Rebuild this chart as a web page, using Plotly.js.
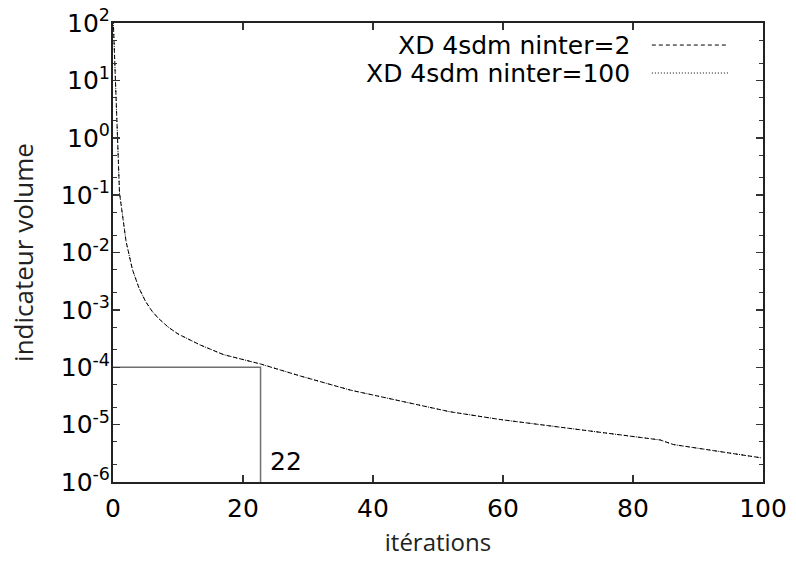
<!DOCTYPE html>
<html>
<head>
<meta charset="utf-8">
<script src="https://cdn.plot.ly/plotly-3.0.1.min.js"></script>
<style>html,body{margin:0;padding:0;background:#fff;}#chart{width:796px;height:568px;}</style>
</head>
<body>
<div id="chart"></div>
<script>
// Data
const seriesNames = ["XD 4sdm ninter=2", "XD 4sdm ninter=100"];
const iterations = [0, 1, 2, 3, 4, 5, 6, 7, 8.5, 10, 13.4, 17, 22.7, 28.8, 36.5, 44.2, 51.8, 59.5, 67.2, 70.3, 77, 84.2, 86.2, 92, 99.8];
const volumeNinter2 = [150, 0.11, 0.0158, 5.0e-3, 2.4e-3, 1.41e-3, 9.5e-4, 7.1e-4, 5.0e-4, 3.8e-4, 2.45e-4, 1.66e-4, 1.14e-4, 7.05e-5, 4.0e-5, 2.58e-5, 1.68e-5, 1.23e-5, 9.5e-6, 8.7e-6, 6.9e-6, 5.4e-6, 4.5e-6, 3.55e-6, 2.63e-6];
const volumeNinter100 = [150, 0.11, 0.0158, 5.0e-3, 2.4e-3, 1.41e-3, 9.5e-4, 7.1e-4, 5.0e-4, 3.8e-4, 2.45e-4, 1.66e-4, 1.14e-4, 7.05e-5, 4.0e-5, 2.58e-5, 1.68e-5, 1.23e-5, 9.5e-6, 8.7e-6, 6.9e-6, 5.4e-6, 4.5e-6, 3.55e-6, 2.63e-6];
const markerX = [0, 22.7, 22.7];
const markerY = [1e-4, 1e-4, 1e-6];
const markerLabel = "22";
const xTickVals = [0, 20, 40, 60, 80, 100];
const yExponents = [-6, -5, -4, -3, -2, -1, 0, 1, 2];
const minorMantissas = [2, 5];

const yTickVals = yExponents.map(e => Math.pow(10, e));
const yTickText = yExponents.map(e => '10<sup>' + (e < 0 ? '-' + (-e) : e) + '</sup>');
const yMinorVals = [];
yExponents.slice(0, -1).forEach(e => minorMantissas.forEach(m => yMinorVals.push(m * Math.pow(10, e))));

const mkTickFont = () => ({family: 'DejaVu Sans', size: 25, color: '#000000'});
const mkTitleFont = (s) => ({family: 'Open Sans', size: s, color: '#222222'});

const traces = [
  {x: markerX, y: markerY, mode: 'lines', line: {color: '#707070', width: 1.5}, showlegend: false, hoverinfo: 'skip'},
  {x: iterations, y: volumeNinter2, name: seriesNames[0], mode: 'lines', line: {color: '#000', width: 1, dash: '4px,3px'}, showlegend: false},
  {x: iterations, y: volumeNinter100, name: seriesNames[1], mode: 'lines', line: {color: '#000', width: 1, dash: '1px,2px'}, showlegend: false}
];

const legendY = [0.952, 0.891];
const legendDash = ['4px,3px', '1px,2px'];

const layout = {
  width: 796, height: 568,
  margin: {l: 113, r: 33, t: 23, b: 86},
  paper_bgcolor: '#fff', plot_bgcolor: '#fff',
  font: {family: 'DejaVu Sans', size: 25, color: '#000000'},
  showlegend: false,
  xaxis: {
    range: [0, 100], tickmode: 'array', tickvals: xTickVals,
    ticks: 'inside', ticklen: 7, tickwidth: 1.5, tickcolor: '#333',
    showline: true, linecolor: '#222', linewidth: 2, mirror: 'ticks',
    showgrid: false, zeroline: false,
    tickfont: mkTickFont(), ticklabelstandoff: 3,
    title: {text: 'itérations', font: mkTitleFont(24), standoff: 12}
  },
  yaxis: {
    type: 'log', range: [-6, 2], tickmode: 'array', tickvals: yTickVals, ticktext: yTickText,
    ticks: 'inside', ticklen: 7, tickwidth: 1.5, tickcolor: '#333',
    minor: {tickmode: 'array', tickvals: yMinorVals, ticks: 'inside', ticklen: 4, tickwidth: 1, tickcolor: '#333', showgrid: false},
    showline: true, linecolor: '#222', linewidth: 2, mirror: 'ticks',
    showgrid: false, zeroline: false,
    tickfont: mkTickFont(), ticklabelstandoff: -4,
    title: {text: 'indicateur volume', font: mkTitleFont(26), standoff: 20}
  },
  annotations: [
    {x: 23.8, y: -5.65, xref: 'x', yref: 'y', text: markerLabel, showarrow: false, xanchor: 'left', yanchor: 'middle', font: mkTickFont()},
    {x: 0.798, y: legendY[0], xref: 'paper', yref: 'paper', text: seriesNames[0], showarrow: false, xanchor: 'right', yanchor: 'middle', font: mkTickFont()},
    {x: 0.798, y: legendY[1], xref: 'paper', yref: 'paper', text: seriesNames[1], showarrow: false, xanchor: 'right', yanchor: 'middle', font: mkTickFont()}
  ],
  shapes: legendY.map((yy, i) => ({type: 'line', xref: 'paper', yref: 'paper', x0: 0.829, x1: 0.946, y0: yy, y1: yy, line: {color: '#000', width: 1, dash: legendDash[i]}}))
};

Plotly.newPlot('chart', traces, layout, {displayModeBar: false, staticPlot: true});
</script>
</body>
</html>
